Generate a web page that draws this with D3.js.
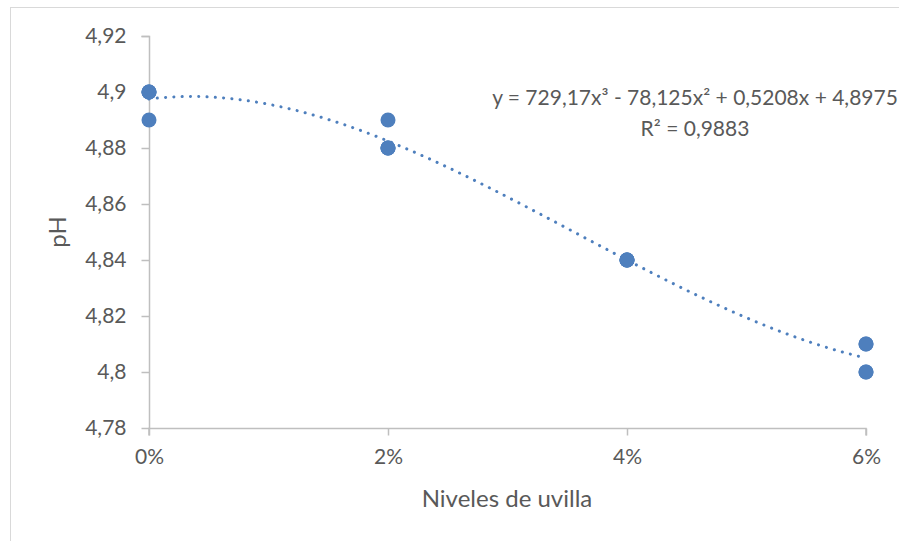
<!DOCTYPE html>
<html>
<head>
<meta charset="utf-8">
<script src="https://cdn.jsdelivr.net/npm/d3@7"></script>
<style>
  html, body { margin: 0; padding: 0; background: #fff; }
  svg { display: block; }
  text { font-family: Lato, "Open Sans", sans-serif; fill: #595959; }
</style>
</head>
<body>
<svg id="chart" width="899" height="541"></svg>
<script>
// Niveles de uvilla (fraction) and measured pH, four replicates per level
const levels = [0, 0.02, 0.04, 0.06];
const levelLabels = ["0%", "2%", "4%", "6%"];
const sampleLevel = [0, 0, 0, 0, 0.02, 0.02, 0.02, 0.02, 0.04, 0.04, 0.04, 0.04, 0.06, 0.06, 0.06, 0.06];
const samplePH    = [4.90, 4.90, 4.89, 4.90, 4.89, 4.88, 4.88, 4.88, 4.84, 4.84, 4.84, 4.84, 4.81, 4.80, 4.81, 4.80];
const yTicks = [4.78, 4.80, 4.82, 4.84, 4.86, 4.88, 4.90, 4.92];
const yTickLabels = ["4,78", "4,8", "4,82", "4,84", "4,86", "4,88", "4,9", "4,92"];
// Cubic trend line coefficients: y = a x^3 + b x^2 + c x + d
const trendCoef = [729.17, -78.125, 0.5208, 4.8975];
const trendLabel = ["y = 729,17x³ - 78,125x² + 0,5208x + 4,8975", "R² = 0,9883"];

const svg = d3.select("#chart");
const axisColor = "#bfbfbf";
const blue = "#4e7fbd";

// chart area frame
svg.append("rect").attr("x", 10.5).attr("y", 7.5).attr("width", 1000).attr("height", 1000)
  .attr("fill", "none").attr("stroke", "#d9d9d9");

const x = d3.scaleLinear().domain([0, 0.06]).range([149, 866]);
const y = d3.scaleLinear().domain([4.78, 4.92]).range([428, 36]);

// y axis
const yAxis = svg.append("g").attr("transform", "translate(149.5,0)")
  .call(d3.axisLeft(y).tickValues(yTicks).tickSize(8).tickPadding(15)
    .tickFormat((d, i) => yTickLabels[i]));
yAxis.select(".domain").attr("stroke", axisColor).attr("stroke-width", 1.5).attr("d", `M-8,${y(4.92)+0.5}H0V${y(4.78)}`);
yAxis.selectAll(".tick line").attr("stroke", axisColor).attr("stroke-width", 1.5);
yAxis.selectAll(".tick text").style("font-size", "21px").style("fill", "#595959")
  .style("font-family", "Lato, sans-serif");

// x axis
const xAxis = svg.append("g").attr("transform", "translate(0,428.5)")
  .call(d3.axisBottom(x).tickValues(levels).tickSize(7).tickPadding(14)
    .tickFormat((d, i) => levelLabels[i]));
xAxis.select(".domain").attr("stroke", axisColor).attr("stroke-width", 1.5).attr("d", `M${x(0)},7V0H${x(0.06)}V7`);
xAxis.selectAll(".tick line").attr("stroke", axisColor).attr("stroke-width", 1.5);
xAxis.selectAll(".tick text").style("font-size", "21px").style("fill", "#595959")
  .style("font-family", "Lato, sans-serif");

// trend line (dotted)
const f = t => trendCoef[0] * t * t * t + trendCoef[1] * t * t + trendCoef[2] * t + trendCoef[3];
const trendPts = d3.range(0, 121).map(i => 0.06 * i / 120);
svg.append("path")
  .datum(trendPts)
  .attr("fill", "none")
  .attr("stroke", blue)
  .attr("stroke-width", 3)
  .attr("stroke-linecap", "round")
  .attr("stroke-dasharray", "0.1 8.2")
  .attr("d", d3.line().x(t => x(t)).y(t => y(f(t))));

// data points
svg.append("g").selectAll("circle")
  .data(samplePH)
  .join("circle")
  .attr("cx", (d, i) => x(sampleLevel[i]))
  .attr("cy", d => y(d))
  .attr("r", 7.5)
  .attr("fill", blue);

// trend equation
svg.append("text").attr("x", 695).attr("y", 105).attr("text-anchor", "middle")
  .style("font-size", "21px").text(trendLabel[0]);
svg.append("text").attr("x", 695).attr("y", 136).attr("text-anchor", "middle")
  .style("font-size", "21px").text(trendLabel[1]);

// axis titles
svg.append("text").attr("x", 507).attr("y", 507).attr("text-anchor", "middle")
  .style("font-size", "24px").text("Niveles de uvilla");
svg.append("text").attr("transform", "translate(66,232) rotate(-90)").attr("text-anchor", "middle")
  .style("font-size", "24px").text("pH");
</script>
</body>
</html>
